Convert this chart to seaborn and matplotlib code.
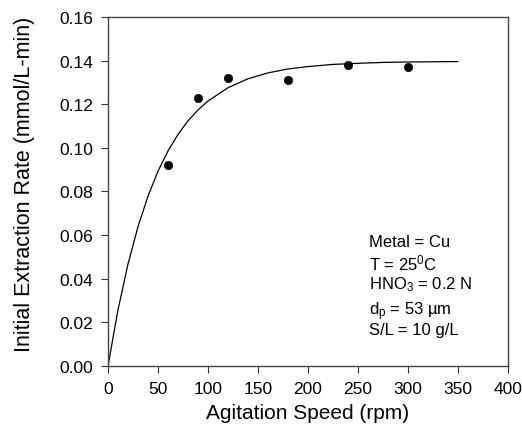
import matplotlib
matplotlib.use("Agg")
import matplotlib.pyplot as plt
import seaborn as sns
import pandas as pd

# measured points
speed = [60, 90, 120, 180, 240, 300]
rate = [0.092, 0.123, 0.132, 0.131, 0.138, 0.137]

# fitted curve
curve_speed = [0, 10, 20, 30, 40, 50, 60, 70, 80, 90, 100, 120, 140, 160,
               180, 200, 225, 250, 275, 300, 325, 350]
curve_rate = [0.0, 0.0258, 0.0468, 0.0639, 0.0779, 0.0893, 0.0986, 0.1062,
              0.1124, 0.1174, 0.1215, 0.1276, 0.1317, 0.1344, 0.1362, 0.1373,
              0.1383, 0.1388, 0.1392, 0.1394, 0.1395, 0.1396]

x_ticks = [0, 50, 100, 150, 200, 250, 300, 350, 400]
y_ticks = [0.00, 0.02, 0.04, 0.06, 0.08, 0.10, 0.12, 0.14, 0.16]

notes = ["Metal = Cu", r"T = 25$^0$C", r"HNO$_3$ = 0.2 N",
         r"d$_p$ = 53 µm", "S/L = 10 g/L"]

sns.set_style("ticks")
plt.rcParams["font.family"] = ["Liberation Sans", "DejaVu Sans"]
plt.rcParams["mathtext.fontset"] = "custom"
plt.rcParams["mathtext.rm"] = "Liberation Sans"
plt.rcParams["mathtext.it"] = "Liberation Sans"
plt.rcParams["text.color"] = "black"
plt.rcParams["axes.labelcolor"] = "black"
plt.rcParams["xtick.color"] = "black"
plt.rcParams["ytick.color"] = "black"

pts = pd.DataFrame({"speed": speed, "rate": rate})
fit = pd.DataFrame({"speed": curve_speed, "rate": curve_rate})

fig = plt.figure(figsize=(5.22, 4.31), dpi=100)
ax = fig.add_axes([0.207, 0.149, 0.766, 0.809])

sns.lineplot(data=fit, x="speed", y="rate", ax=ax, color="black", linewidth=0.9)
sns.scatterplot(data=pts, x="speed", y="rate", ax=ax, color="black", s=36,
                edgecolor="black", zorder=3)

ax.set_xlim(0, 400)
ax.set_ylim(0, 0.16)
ax.set_xticks(x_ticks)
ax.set_yticks(y_ticks)
ax.set_yticklabels([f"{v:.2f}" for v in y_ticks])
ax.tick_params(labelsize=12.5, length=5, width=0.8, color="#333333", pad=6)
for s in ax.spines.values():
    s.set_color("#444444")
    s.set_linewidth(1.0)

ax.set_xlabel("Agitation Speed (rpm)", fontsize=15, labelpad=5)
ax.set_ylabel("Initial Extraction Rate (mmol/L-min)", fontsize=15.5)
ax.yaxis.set_label_coords(-0.183, 0.522)

y_pos = [0.0569, 0.0476, 0.0375, 0.0255, 0.0168]
for t, yy in zip(notes, y_pos):
    ax.text(261, yy, t, fontsize=12, va="center", ha="left")

fig.savefig("out.png", dpi=100)
